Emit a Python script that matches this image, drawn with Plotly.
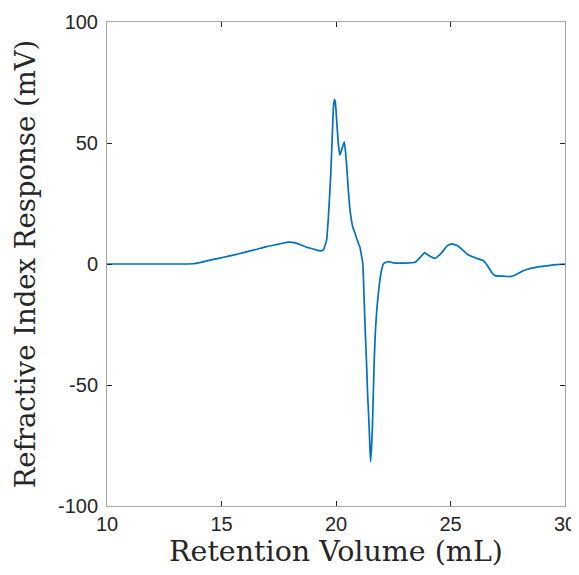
import plotly.graph_objects as go

# Retention volume (mL) and refractive index response (mV)
retention_ml = [10, 11, 12, 13, 13.75, 14.2, 14.64, 15.1, 15.52, 16, 16.5, 16.97, 17.5, 17.9,
                18.3, 18.72, 19.08, 19.3, 19.45, 19.59, 19.66, 19.72, 19.77, 19.83, 19.88, 19.93,
                19.97, 20.0, 20.09, 20.17, 20.26, 20.36, 20.42, 20.47, 20.52, 20.58, 20.66, 20.73,
                20.83, 20.9, 20.98, 21.05, 21.12, 21.17, 21.22, 21.27, 21.33, 21.38, 21.44, 21.48,
                21.51, 21.55, 21.59, 21.67, 21.72, 21.78, 21.88, 21.99, 22.07, 22.14, 22.28, 22.5,
                23.0, 23.45, 23.7, 23.87, 24.05, 24.32, 24.6, 24.85, 25.05, 25.3, 25.55, 25.78,
                26.1, 26.43, 26.6, 26.8, 26.94, 27.3, 27.6, 27.9, 28.18, 28.5, 28.9, 29.5, 30]
ri_response_mv = [0, 0, 0, 0, 0.1, 0.9, 1.9, 2.8, 3.7, 4.8, 6.0, 7.2, 8.2, 9.0,
                  8.5, 6.9, 6.0, 5.4, 5.8, 9.9, 18.2, 28, 37, 51, 63.6, 68,
                  67, 63.6, 51, 45, 47.5, 50.5, 46, 40, 33, 25.5, 19, 15.4,
                  12.7, 10.6, 8.5, 6.8, 3.0, 0.3, -12, -26, -40, -53.4, -66, -75.5,
                  -81.7, -76, -67.2, -39.7, -28, -19, -9.4, -2.5, 0, 0.5, 1.0, 0.5,
                  0.4, 0.7, 3.0, 4.7, 3.5, 2.3, 4.5, 7.5, 8.3, 7.6, 5.6, 3.7,
                  2.5, 1.4, -0.5, -3.5, -4.8, -5.0, -5.2, -4.2, -2.8, -1.8, -1.1, -0.4, 0]

x_ticks = [10, 15, 20, 25, 30]
y_ticks = [-100, -50, 0, 50, 100]
y_tick_labels = ["-100", "-50", "0", "50", "100"]

fig = go.Figure()
fig.add_trace(go.Scatter(
    x=retention_ml, y=ri_response_mv, mode="lines",
    line=dict(color="#0072BD", width=1.7, shape="spline", smoothing=0.35),
    showlegend=False, hoverinfo="skip"))

axis_common = dict(
    showgrid=False, zeroline=False, showline=True, linecolor="#a6a6a6", linewidth=1,
    mirror="ticks", ticks="inside", ticklen=5, tickcolor="#262626", tickwidth=1,
    automargin=False,
    tickfont=dict(family="Liberation Sans, Arial, sans-serif", size=20, color="#262626"),
)

# page body has an 8px margin, so the figure is sized and offset to compensate
fig.update_layout(
    width=571, height=567,
    margin=dict(l=99, r=14, t=14, b=69),
    paper_bgcolor="white", plot_bgcolor="white",
    xaxis=dict(range=[10, 30], tickvals=x_ticks, **axis_common,
               title=dict(text="Retention Volume (mL)", standoff=5,
                          font=dict(family="DejaVu Serif, serif", size=28.5, color="#262626"))),
    yaxis=dict(range=[-100, 100], tickvals=y_ticks, ticktext=y_tick_labels, **axis_common,
               ticklabelstandoff=4,
               title=dict(text="Refractive Index Response (mV)", standoff=14,
                          font=dict(family="DejaVu Serif, serif", size=27.5, color="#262626"))),
)

fig.write_html("out.html")
